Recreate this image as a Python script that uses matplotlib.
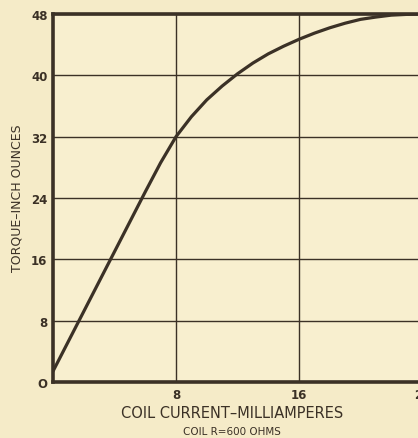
import numpy as np
import matplotlib
matplotlib.use("Agg")
import matplotlib.pyplot as plt

# values
current_ma = [0, 1, 2, 3, 4, 5, 6, 7, 8, 9, 10, 11, 12, 13, 14, 15, 16, 17, 18, 19, 20, 21, 22, 23, 24]
torque_oz = [1.4, 5.3, 9.2, 13.1, 17.0, 20.9, 24.8, 28.6, 32.0, 34.6, 36.8, 38.6, 40.2, 41.6, 42.8, 43.8, 44.7,
             45.5, 46.2, 46.8, 47.3, 47.6, 47.85, 47.95, 48.0]

x_ticks = [8, 16, 24]
y_ticks = [0, 8, 16, 24, 32, 40, 48]

ink = "#3b3126"
paper = "#f5ebc8"

plt.rcParams["font.family"] = ["DejaVu Sans"]

fig = plt.figure(figsize=(4.18, 4.39), dpi=100)
fig.patch.set_facecolor(paper)
ax = fig.add_axes([53 / 418, 1 - 383 / 439, 369 / 418, 368 / 439])
ax.set_facecolor("#f8efcf")

ax.plot(current_ma, torque_oz, color=ink, lw=2.3, solid_capstyle="round", solid_joinstyle="round", zorder=3)

ax.set_xlim(0, 24)
ax.set_ylim(0, 48)
ax.set_xticks(x_ticks)
ax.set_yticks(y_ticks)
ax.set_yticklabels(["O"] + [str(v) for v in y_ticks[1:]])
ax.grid(True, color=ink, lw=1.0)
ax.tick_params(length=0, labelsize=8.5, colors=ink, pad=4)
for lbl in ax.get_xticklabels() + ax.get_yticklabels():
    lbl.set_fontweight("bold")
for s in ax.spines.values():
    s.set_color(ink)
    s.set_linewidth(2.6)

fig.text(232 / 418, 1 - 414 / 439, "COIL CURRENT\u2013MILLIAMPERES", ha="center", va="center",
         fontsize=10.5, color=ink)
fig.text(232 / 418, 1 - 432 / 439, "COIL R=600 OHMS", ha="center", va="center",
         fontsize=7.5, color=ink)
fig.text(17 / 418, 1 - 198 / 439, "TORQUE\u2013INCH OUNCES", ha="center", va="center",
         rotation=90, fontsize=9, color=ink)

fig.savefig("out.png", dpi=100, facecolor=paper)
